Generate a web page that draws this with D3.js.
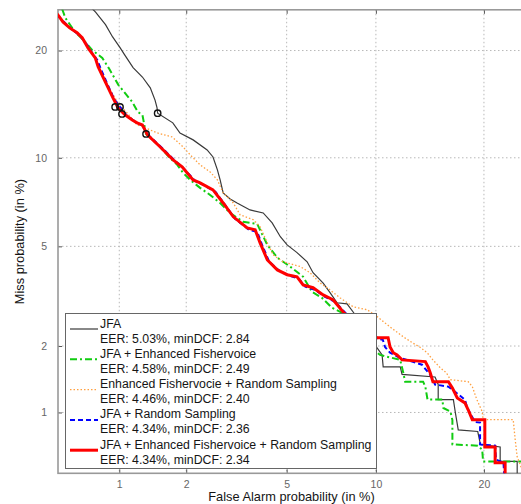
<!DOCTYPE html>
<html>
<head>
<meta charset="utf-8">
<script src="https://cdn.jsdelivr.net/npm/d3@7"></script>
<style>
  body { margin: 0; background: #fff; }
  svg { display: block; font-family: Arial, "Liberation Sans", sans-serif; }
</style>
</head>
<body>
<div id="chart"></div>
<script>
// tick values in percent (both axes)
const tickVals = [1, 2, 5, 10, 20];

// DET curves: [false alarm %, miss %]
const jfa = [[0.69,26],[0.77,24.7],[0.86,23.1],[0.93,21.6],[1.01,20.3],[1.06,19.5],[1.16,18.1],[1.28,17.1],[1.39,16.0],[1.46,14.8],[1.49,14.1],[1.50,13.6],[1.75,12.75],[1.88,11.9],[2.14,11.35],[2.45,10.58],[2.59,10.06],[2.70,9.16],[2.77,8.50],[2.85,7.70],[3.04,7.35],[3.24,7.12],[3.64,6.74],[4.09,6.58],[4.42,6.07],[4.74,5.42],[5.02,5.06],[5.45,4.74],[5.92,4.38],[6.21,3.98],[6.73,3.63],[7.11,3.32],[7.50,3.03],[8.09,3.0],[8.47,2.78],[9.26,2.35],[10.1,1.96],[10.45,1.83],[10.53,1.62],[11.85,1.62],[12.0,1.50],[14.9,1.46],[15.2,1.35],[15.2,1.15],[16.7,1.15],[16.9,1.0],[17.2,0.825],[19.3,0.81],[19.6,0.70],[21.9,0.68],[21.9,0.575],[24.0,0.575],[24.0,0.485]];

const jfaFisher = [[0.525,25.1],[0.545,23.95],[0.61,22.2],[0.685,21.0],[0.74,20.06],[0.83,19.17],[0.89,18.07],[0.99,16.3],[1.15,14.63],[1.22,13.7],[1.28,13.45],[1.33,11.83],[1.54,10.8],[1.70,9.99],[1.83,9.50],[1.94,8.95],[2.08,8.50],[2.29,8.0],[2.52,7.58],[2.77,7.12],[3.04,6.58],[3.42,6.13],[3.88,6.02],[4.24,5.06],[4.62,4.54],[5.15,4.2],[5.73,3.84],[6.16,3.35],[6.67,3.17],[7.22,2.89],[7.80,2.76],[8.9,2.3],[10.1,1.87],[10.3,1.83],[11.85,1.74],[12.1,1.525],[12.25,1.39],[13.8,1.39],[14.0,1.32],[14.2,1.15],[15.6,1.15],[15.7,1.05],[16.4,1.01],[16.6,0.92],[16.6,0.70],[19.3,0.69],[19.8,0.66],[19.9,0.575],[26,0.575]];

const fisherRandom = [[0.496,24.6],[0.531,23.57],[0.573,22.81],[0.631,22.09],[0.678,21.23],[0.724,20.06],[0.776,18.94],[0.81,17.85],[0.906,15.79],[0.987,14.54],[1.088,13.62],[1.21,12.58],[1.318,12.33],[1.494,11.91],[1.74,11.58],[1.94,10.8],[2.08,10.21],[2.29,9.5],[2.52,9.02],[2.70,8.50],[2.85,7.70],[3.13,7.12],[3.33,6.48],[3.75,6.23],[3.98,5.88],[4.24,5.15],[4.46,4.65],[4.85,4.38],[5.6,4.2],[6.06,3.98],[6.57,3.63],[6.94,3.48],[7.68,3.17],[8.47,2.92],[9.39,2.84],[10.1,2.66],[11.05,2.41],[12.1,2.19],[12.9,2.06],[13.5,1.98],[14.17,1.87],[14.7,1.74],[15.4,1.605],[16.0,1.525],[16.4,1.42],[18.25,1.39],[18.7,1.32],[19.2,1.15],[19.8,1.01],[19.9,0.924],[23.5,0.924],[23.75,0.737],[24.0,0.607],[24.4,0.553],[25.0,0.46]];

const jfaRandom = [[0.496,24.3],[0.537,23.44],[0.585,22.56],[0.64,21.84],[0.685,21.0],[0.742,19.72],[0.785,18.94],[0.82,17.85],[0.877,16.4],[0.945,14.92],[1.008,14.17],[1.088,13.36],[1.173,12.92],[1.277,12.5],[1.373,11.67],[1.57,10.73],[1.79,9.78],[1.96,9.22],[2.18,8.44],[2.36,8.18],[2.65,7.77],[2.90,7.02],[3.18,6.28],[3.61,5.74],[3.88,5.65],[4.05,5.06],[4.31,4.38],[4.70,4.05],[5.11,3.875],[5.54,3.77],[5.83,3.51],[6.31,3.41],[6.83,3.2],[7.39,3.06],[7.98,2.76],[9.0,2.38],[10.1,2.15],[10.5,2.13],[10.67,1.98],[11.05,1.87],[11.85,1.776],[13.7,1.657],[14.6,1.46],[14.9,1.35],[16.2,1.32],[17.9,1.15],[18.15,1.05],[19.0,0.90],[19.56,0.895],[19.56,0.70],[21.3,0.69],[21.4,0.587],[22.3,0.567],[22.4,0.485]];

const jfaFisherRandom = [[0.496,24.45],[0.53,23.44],[0.573,22.7],[0.624,22.1],[0.662,21.5],[0.707,20.3],[0.767,19.17],[0.793,18.17],[0.858,16.6],[0.935,15.0],[0.987,14.08],[1.064,13.45],[1.15,13.0],[1.21,12.75],[1.28,12.58],[1.35,11.75],[1.54,10.8],[1.755,9.85],[1.92,9.36],[2.14,8.50],[2.29,8.31],[2.59,7.88],[2.85,7.12],[3.13,6.38],[3.55,5.83],[3.81,5.74],[3.98,5.15],[4.24,4.45],[4.62,4.08],[5.02,3.91],[5.45,3.84],[5.73,3.57],[6.21,3.48],[6.73,3.26],[7.28,3.11],[7.86,2.78],[8.92,2.39],[10.1,2.17],[10.9,2.17],[11.05,1.98],[11.3,1.87],[11.6,1.83],[12.0,1.74],[14.0,1.71],[14.25,1.62],[14.45,1.525],[14.7,1.39],[16.2,1.39],[16.6,1.30],[17.1,1.17],[17.9,1.11],[18.25,1.03],[18.7,0.924],[20.1,0.924],[20.1,0.68],[21.3,0.68],[21.3,0.567],[22.5,0.567],[22.5,0.485]];

// minDCF operating points (circles)
const minDcfPts = [[1.50,13.6],[1.33,11.83],[0.956,14.17],[1.008,14.17],[1.03,13.53]];

const names = ["JFA", "JFA + Enhanced Fishervoice", "Enhanced Fishervocie + Random Sampling",
               "JFA + Random Sampling", "JFA + Enhanced Fishervoice + Random Sampling"];
const scores = ["EER: 5.03%, minDCF: 2.84", "EER: 4.58%, minDCF: 2.49", "EER: 4.46%, minDCF: 2.40",
                "EER: 4.34%, minDCF: 2.36", "EER: 4.34%, minDCF: 2.34"];

const series = [
  { data: jfa,             color: "#3a3a3a", width: 1.2, dash: null },
  { data: jfaFisher,       color: "#11cc11", width: 2,   dash: "7,3,2,3" },
  { data: fisherRandom,    color: "#ffa040", width: 1.3, dash: "1.5,2" },
  { data: jfaRandom,       color: "#0000ff", width: 2,   dash: "5,3" },
  { data: jfaFisherRandom, color: "#ff0000", width: 3,   dash: null }
];

// inverse normal CDF (Acklam)
function probit(p) {
  const a = [-3.969683028665376e+01, 2.209460984245205e+02, -2.759285104469687e+02, 1.383577518672690e+02, -3.066479806614716e+01, 2.506628277459239e+00];
  const b = [-5.447609879822406e+01, 1.615858368580409e+02, -1.556989798598866e+02, 6.680131188771972e+01, -1.328068155288572e+01];
  const c = [-7.784894002430293e-03, -3.223964580411365e-01, -2.400758277161838e+00, -2.549732539343734e+00, 4.374664141464968e+00, 2.938163982698783e+00];
  const d = [7.784695709041462e-03, 3.224671290700398e-01, 2.445134137142996e+00, 3.754408661907416e+00];
  const plow = 0.02425;
  if (p < plow) {
    const q = Math.sqrt(-2 * Math.log(p));
    return (((((c[0]*q+c[1])*q+c[2])*q+c[3])*q+c[4])*q+c[5]) / ((((d[0]*q+d[1])*q+d[2])*q+d[3])*q+1);
  }
  if (p <= 1 - plow) {
    const q = p - 0.5, r = q * q;
    return (((((a[0]*r+a[1])*r+a[2])*r+a[3])*r+a[4])*r+a[5])*q / (((((b[0]*r+b[1])*r+b[2])*r+b[3])*r+b[4])*r+1);
  }
  const q = Math.sqrt(-2 * Math.log(1 - p));
  return -(((((c[0]*q+c[1])*q+c[2])*q+c[3])*q+c[4])*q+c[5]) / ((((d[0]*q+d[1])*q+d[2])*q+d[3])*q+1);
}

const W = 521, H = 504;
const pLeft = 58, pRight = 525, pTop = 9.8, pBottom = 473.3;

const svg = d3.select("#chart").append("svg")
  .attr("width", W).attr("height", H);

// probit-warped axes: linear scale on normal deviates
const x = d3.scaleLinear().domain([probit(0.005), probit(0.25)]).range([pLeft, pRight]);
const y = d3.scaleLinear().domain([probit(0.005), probit(0.25)]).range([pBottom, pTop]);
const px = v => x(probit(v / 100));
const py = v => y(probit(v / 100));

svg.append("defs").append("clipPath").attr("id", "clip")
  .append("rect").attr("x", pLeft).attr("y", pTop)
  .attr("width", pRight - pLeft).attr("height", pBottom - pTop);

// grid
const grid = svg.append("g").attr("stroke", "#b8b8b8").attr("stroke-width", 1)
  .attr("stroke-dasharray", "1.5,2.5");
tickVals.forEach(t => {
  grid.append("line").attr("x1", px(t)).attr("x2", px(t)).attr("y1", pTop).attr("y2", pBottom);
  grid.append("line").attr("y1", py(t)).attr("y2", py(t)).attr("x1", pLeft).attr("x2", pRight);
});

// axes
const tickZ = tickVals.map(t => probit(t / 100));
const fmt = (d, i) => tickVals[i];

const xAxis = svg.append("g").attr("transform", `translate(0,${pBottom})`)
  .call(d3.axisBottom(x).tickValues(tickZ).tickFormat(fmt).tickSize(-4).tickPadding(7));
const yAxis = svg.append("g").attr("transform", `translate(${pLeft},0)`)
  .call(d3.axisLeft(y).tickValues(tickZ).tickFormat(fmt).tickSize(-4).tickPadding(11));
svg.append("g").attr("transform", `translate(0,${pTop})`)
  .call(d3.axisTop(x).tickValues(tickZ).tickFormat("").tickSize(-4));

svg.selectAll(".domain").remove();
svg.selectAll(".tick line").attr("stroke", "#555");
[xAxis, yAxis].forEach(g => {
  g.selectAll(".tick text").attr("fill", "#666").style("font-size", "10.5px")
    .style("font-family", "Arial, 'Liberation Sans', sans-serif");
});

// frame
svg.append("rect").attr("x", pLeft).attr("y", pTop)
  .attr("width", pRight - pLeft).attr("height", pBottom - pTop)
  .attr("fill", "none").attr("stroke", "#999").attr("stroke-width", 1.6);

// curves
const line = d3.line().x(d => px(d[0])).y(d => py(d[1]));
const curves = svg.append("g").attr("clip-path", "url(#clip)");
series.forEach(s => {
  curves.append("path").datum(s.data)
    .attr("d", line)
    .attr("fill", "none")
    .attr("stroke", s.color)
    .attr("stroke-width", s.width)
    .attr("stroke-dasharray", s.dash)
    .attr("stroke-linejoin", "miter");
});

curves.selectAll("circle").data(minDcfPts).enter().append("circle")
  .attr("cx", d => px(d[0])).attr("cy", d => py(d[1]))
  .attr("r", 3.2).attr("fill", "none").attr("stroke", "#111").attr("stroke-width", 1.4);

// legend
const lg = svg.append("g");
lg.append("rect").attr("x", 65.5).attr("y", 313.5).attr("width", 311).attr("height", 155)
  .attr("fill", "#fff").attr("stroke", "#666").attr("stroke-width", 1);

series.forEach((s, i) => {
  const y0 = 323 + i * 30.3;
  lg.append("line").attr("x1", 70).attr("x2", 98).attr("y1", y0 + 6).attr("y2", y0 + 6)
    .attr("stroke", s.color).attr("stroke-width", s.width).attr("stroke-dasharray", s.dash);
  lg.append("text").attr("x", 100).attr("y", y0 + 4.5).text(names[i])
    .attr("fill", "#151515").style("font-size", "12.3px");
  lg.append("text").attr("x", 100).attr("y", y0 + 19.5).text(scores[i])
    .attr("fill", "#151515").style("font-size", "12.3px");
});

// axis titles
svg.append("text").attr("x", (pLeft + pRight) / 2).attr("y", 501)
  .attr("text-anchor", "middle").attr("fill", "#151515").style("font-size", "12.8px")
  .text("False Alarm probability (in %)");
svg.append("text").attr("transform", `translate(24,${(pTop + pBottom) / 2}) rotate(-90)`)
  .attr("text-anchor", "middle").attr("fill", "#151515").style("font-size", "12.8px")
  .text("Miss probability (in %)");
</script>
</body>
</html>
